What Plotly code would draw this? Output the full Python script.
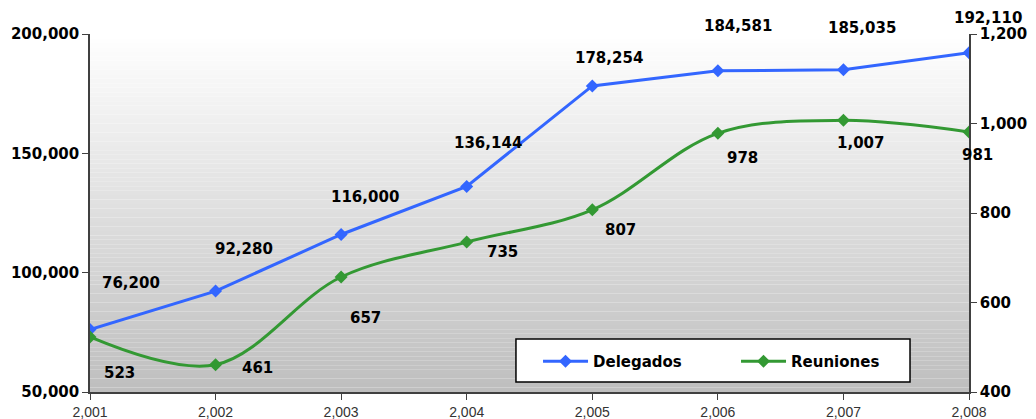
import plotly.graph_objects as go

years = [2001, 2002, 2003, 2004, 2005, 2006, 2007, 2008]
delegados = [76200, 92280, 116000, 136144, 178254, 184581, 185035, 192110]
reuniones = [523, 461, 657, 735, 807, 978, 1007, 981]
left_ticks = [50000, 100000, 150000, 200000]
right_ticks = [400, 600, 800, 1000, 1200]

# label offsets (pixels) relative to points
del_off = [(41, -46), (28, -42), (24, -37), (21, -43), (17, -28), (20, -45), (19, -42), (19, -35)]
reu_off = [(29, 36), (42, 3), (24, 41), (36, 10), (28, 20), (25, 25), (17, 23), (8, 23)]

BLUE = "#3366FF"
GREEN = "#339933"
BOLD = "DejaVu Sans, Arial, sans-serif"
REG = "Liberation Sans, Arial, sans-serif"

fig = go.Figure()
fig.add_trace(go.Scatter(x=years, y=delegados, name="Delegados", mode="lines+markers",
                         line=dict(color=BLUE, width=3),
                         marker=dict(symbol="diamond", size=10, color=BLUE), yaxis="y"))
fig.add_trace(go.Scatter(x=years, y=reuniones, name="Reuniones", mode="lines+markers",
                         line=dict(color=GREEN, width=3, shape="spline", smoothing=1.0),
                         marker=dict(symbol="diamond", size=10, color=GREEN), yaxis="y2"))

# gradient background
n = 80
shapes = []
for i in range(n):
    c = int(round(255 - (255 - 190) * (1 - (i + 0.5) / n)))
    shapes.append(dict(type="rect", xref="x domain", yref="y domain", x0=0, x1=1,
                       y0=i / n, y1=(i + 1) / n, fillcolor=f"rgb({c},{c},{c})",
                       line=dict(width=0), layer="below"))
# legend frame
shapes.append(dict(type="rect", xref="paper", yref="paper", x0=0.4846, x1=0.9329,
                   y0=0.028, y1=0.148, fillcolor="white",
                   line=dict(color="black", width=1.5), layer="above"))

annotations = []
for x, y, (dx, dy) in zip(years, delegados, del_off):
    annotations.append(dict(x=x, y=y, xref="x", yref="y", text=f"<b>{y:,}</b>", showarrow=True,
                            arrowcolor="rgba(0,0,0,0)", ax=dx, ay=dy,
                            font=dict(family=BOLD, size=15, color="#000")))
for x, y, (dx, dy) in zip(years, reuniones, reu_off):
    annotations.append(dict(x=x, y=y, xref="x", yref="y2", text=f"<b>{y:,}</b>", showarrow=True,
                            arrowcolor="rgba(0,0,0,0)", ax=dx, ay=dy,
                            font=dict(family=BOLD, size=15, color="#000")))

axis_common = dict(showgrid=False, zeroline=False, showline=True, linecolor="#404040",
                   linewidth=1.5, ticks="outside", ticklen=6, tickcolor="#404040",
                   automargin=False)

fig.update_layout(
    width=1028, height=411,
    margin=dict(l=82, r=67, t=26, b=27),
    paper_bgcolor="white", plot_bgcolor="white",
    font=dict(family=REG, color="#000"),
    shapes=shapes, annotations=annotations,
    xaxis=dict(range=[2001, 2008], tickvals=years, ticktext=[f"{v:,}" for v in years],
               tickfont=dict(size=14, color="#333", family=REG), **axis_common),
    yaxis=dict(range=[50000, 200000], tickvals=left_ticks,
               ticktext=[f"<b>{v:,}</b>" for v in left_ticks],
               tickfont=dict(size=15, color="#000", family=BOLD), **axis_common),
    yaxis2=dict(range=[400, 1200], tickvals=right_ticks,
                ticktext=[f"<b>{v:,}</b>" for v in right_ticks],
                overlaying="y", side="right",
                tickfont=dict(size=15, color="#000", family=BOLD), **axis_common),
    legend=dict(orientation="h", x=0.5097, y=0.039, xanchor="left", yanchor="bottom",
                bgcolor="rgba(0,0,0,0)", borderwidth=0,
                font=dict(size=15, color="#000", family=BOLD, weight="bold"),
                entrywidth=138, entrywidthmode="pixels", itemwidth=45),
    showlegend=True,
)

fig.write_html("out.html")
